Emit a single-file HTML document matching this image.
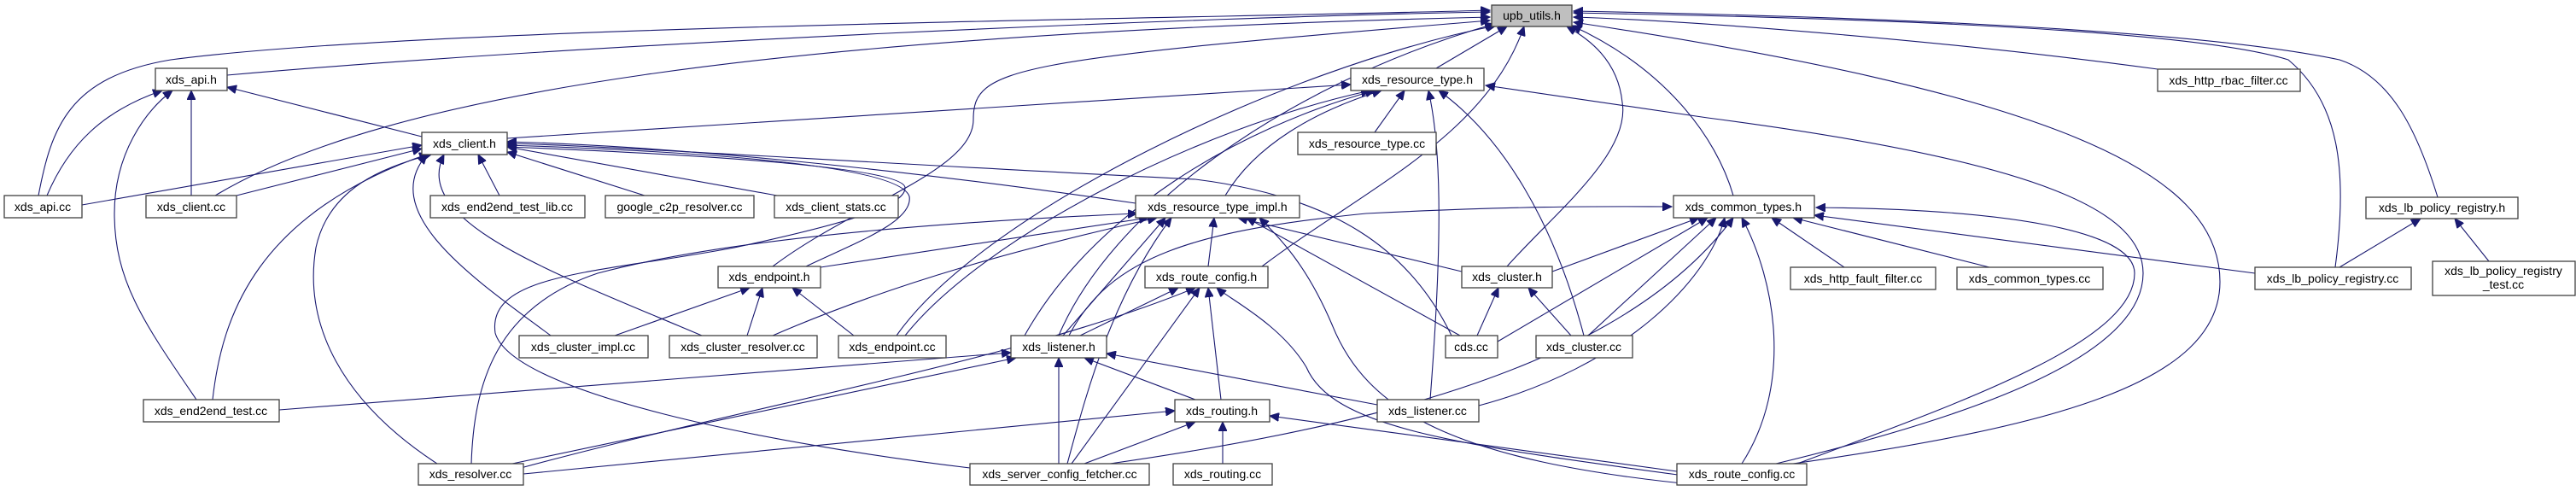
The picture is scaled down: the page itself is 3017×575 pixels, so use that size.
<!DOCTYPE html>
<html><head><meta charset="utf-8"><style>
html,body{margin:0;padding:0;background:#fff;}
svg{display:block;}
text{font-family:"Liberation Sans",sans-serif;font-size:14px;fill:#000;}
.e{fill:none;stroke:#191970;stroke-width:1.1;marker-end:url(#a);}
.n{fill:#fff;stroke:#404040;stroke-width:1.3;}
</style></head><body>
<svg width="3017" height="575" viewBox="0 0 3017 575" xmlns="http://www.w3.org/2000/svg">
<defs><marker id="a" markerUnits="userSpaceOnUse" markerWidth="12" markerHeight="10" refX="11" refY="5" orient="auto"><path d="M0,0 L11,5 L0,10 z" fill="#191970" stroke="#191970"/></marker></defs>
<g>
<path class="e" d="M266,88 C700,50 1400,20 1745,14"/>
<path class="e" d="M45,229 C60,150 80,90 200,70 C500,30 1400,22 1745,12"/>
<path class="e" d="M252,229 C450,110 900,40 1745,20"/>
<path class="e" d="M905,312 C1000,240 1140,200 1140,140 C1140,80 1180,70 1745,24"/>
<path class="e" d="M1240,393 C1300,250 1500,100 1750,28"/>
<path class="e" d="M1050,393 C1150,250 1500,80 1752,30"/>
<path class="e" d="M1682,80 L1765,31"/>
<path class="e" d="M1478,312 C1600,220 1740,160 1785,31"/>
<path class="e" d="M1765,312 C1820,250 1910,180 1900,120 C1895,70 1860,45 1835,31"/>
<path class="e" d="M2030,229 C2010,160 1950,80 1841,30"/>
<path class="e" d="M2527,81 C2300,50 2000,25 1843,20"/>
<path class="e" d="M2735,313 C2750,200 2740,120 2680,70 C2550,30 2100,20 1843,15"/>
<path class="e" d="M2855,231 C2830,150 2800,90 2740,70 C2550,30 2100,18 1843,13"/>
<path class="e" d="M2100,543 C2400,500 2600,450 2600,330 C2600,200 2400,110 1843,26"/>
<path class="e" d="M55,229 C80,170 120,130 190,106"/>
<path class="e" d="M224,229 L224,106"/>
<path class="e" d="M230,468 C170,380 134,330 134,250 C134,180 170,130 202,106"/>
<path class="e" d="M494,160 L266,102"/>
<path class="e" d="M96,240 L494,170"/>
<path class="e" d="M277,229 L494,174"/>
<path class="e" d="M585,229 L560,181"/>
<path class="e" d="M755,229 L594,178"/>
<path class="e" d="M910,229 L594,172"/>
<path class="e" d="M1330,238 C1000,190 750,170 594,166"/>
<path class="e" d="M645,393 C560,330 440,250 500,181"/>
<path class="e" d="M822,393 C650,320 480,260 520,181"/>
<path class="e" d="M249,468 C260,370 300,250 502,180"/>
<path class="e" d="M512,543 C400,470 355,380 370,290 C385,220 450,195 505,181"/>
<path class="e" d="M1700,393 C1650,290 1560,230 1400,210 C1000,190 700,170 594,168"/>
<path class="e" d="M944,312 C1000,285 1070,260 1065,230 C1055,200 900,180 594,170"/>
<path class="e" d="M1136,548 C900,520 600,460 580,390 C570,320 700,320 860,290 C1000,260 1060,240 1060,220 C1060,195 800,180 594,172"/>
<path class="e" d="M594,162 L1582,99"/>
<path class="e" d="M1610,155 L1645,106"/>
<path class="e" d="M1435,229 C1470,170 1540,130 1618,106"/>
<path class="e" d="M1200,393 C1280,250 1450,150 1610,106"/>
<path class="e" d="M1060,393 C1150,280 1400,150 1605,106"/>
<path class="e" d="M1675,468 C1688,300 1690,180 1673,106"/>
<path class="e" d="M1855,393 C1820,260 1760,160 1685,106"/>
<path class="e" d="M2080,543 C2300,490 2510,420 2510,320 C2510,250 2400,190 2000,138 L1740,100"/>
<path class="e" d="M552,543 C555,450 580,360 700,320 C850,280 1100,260 1332,250"/>
<path class="e" d="M961,313 L1345,255"/>
<path class="e" d="M905,393 C1050,330 1200,290 1355,255"/>
<path class="e" d="M1245,393 L1365,255"/>
<path class="e" d="M1415,312 L1422,255"/>
<path class="e" d="M1712,318 L1450,255"/>
<path class="e" d="M1250,543 C1270,470 1300,350 1372,255"/>
<path class="e" d="M1710,393 L1460,255"/>
<path class="e" d="M1990,568 C1700,540 1600,480 1560,380 C1530,310 1500,280 1475,255"/>
<path class="e" d="M1252,393 C1300,300 1400,270 1600,250 C1800,240 1900,242 1958,242"/>
<path class="e" d="M1818,318 L1990,255"/>
<path class="e" d="M1754,400 L2000,255"/>
<path class="e" d="M1860,393 L2010,255"/>
<path class="e" d="M1732,475 C1900,430 2000,330 2020,255"/>
<path class="e" d="M1300,543 C1600,500 1900,430 2030,255"/>
<path class="e" d="M2160,313 L2075,255"/>
<path class="e" d="M2330,313 L2100,255"/>
<path class="e" d="M2641,320 L2125,252"/>
<path class="e" d="M2105,543 C2300,470 2500,400 2500,320 C2500,270 2350,245 2127,243"/>
<path class="e" d="M2040,543 C2100,450 2080,330 2040,255"/>
<path class="e" d="M720,393 L878,337"/>
<path class="e" d="M875,393 L893,337"/>
<path class="e" d="M1000,393 L928,337"/>
<path class="e" d="M1265,393 L1380,337"/>
<path class="e" d="M1430,468 L1415,337"/>
<path class="e" d="M610,548 C900,470 1200,420 1400,337"/>
<path class="e" d="M1255,543 L1405,337"/>
<path class="e" d="M1965,556 C1700,520 1560,500 1530,430 C1500,380 1440,350 1425,337"/>
<path class="e" d="M1730,393 L1755,337"/>
<path class="e" d="M1840,393 L1790,337"/>
<path class="e" d="M327,480 L1184,413"/>
<path class="e" d="M600,543 L1190,419"/>
<path class="e" d="M1240,543 L1240,419"/>
<path class="e" d="M1400,468 L1270,419"/>
<path class="e" d="M1613,474 L1296,414"/>
<path class="e" d="M613,555 L1376,481"/>
<path class="e" d="M1270,543 L1400,494"/>
<path class="e" d="M1432,543 L1432,494"/>
<path class="e" d="M1964,552 L1487,487"/>
<path class="e" d="M2740,313 L2835,256"/>
<path class="e" d="M2915,306 L2875,256"/>
</g>
<g>
<rect x="1747" y="6" width="94" height="25" fill="#bfbfbf" stroke="#404040" stroke-width="1.3"/><text x="1794" y="23" text-anchor="middle">upb_utils.h</text>
<rect class="n" x="182" y="80" width="84" height="26"/><text x="224" y="98" text-anchor="middle">xds_api.h</text>
<rect class="n" x="1582" y="80" width="156" height="26"/><text x="1660" y="98" text-anchor="middle">xds_resource_type.h</text>
<rect class="n" x="2527" y="81" width="167" height="26"/><text x="2610" y="99" text-anchor="middle">xds_http_rbac_filter.cc</text>
<rect class="n" x="494" y="155" width="100" height="26"/><text x="544" y="173" text-anchor="middle">xds_client.h</text>
<rect class="n" x="1520" y="155" width="162" height="26"/><text x="1601" y="173" text-anchor="middle">xds_resource_type.cc</text>
<rect class="n" x="5" y="229" width="91" height="26"/><text x="50" y="247" text-anchor="middle">xds_api.cc</text>
<rect class="n" x="171" y="229" width="106" height="26"/><text x="224" y="247" text-anchor="middle">xds_client.cc</text>
<rect class="n" x="504" y="229" width="181" height="26"/><text x="594" y="247" text-anchor="middle">xds_end2end_test_lib.cc</text>
<rect class="n" x="709" y="229" width="174" height="26"/><text x="796" y="247" text-anchor="middle">google_c2p_resolver.cc</text>
<rect class="n" x="907" y="229" width="145" height="26"/><text x="979" y="247" text-anchor="middle">xds_client_stats.cc</text>
<rect class="n" x="1330" y="229" width="192" height="26"/><text x="1426" y="247" text-anchor="middle">xds_resource_type_impl.h</text>
<rect class="n" x="1960" y="229" width="165" height="26"/><text x="2042" y="247" text-anchor="middle">xds_common_types.h</text>
<rect class="n" x="2771" y="231" width="178" height="25"/><text x="2860" y="248" text-anchor="middle">xds_lb_policy_registry.h</text>
<rect class="n" x="841" y="312" width="120" height="25"/><text x="901" y="329" text-anchor="middle">xds_endpoint.h</text>
<rect class="n" x="1341" y="312" width="144" height="25"/><text x="1413" y="329" text-anchor="middle">xds_route_config.h</text>
<rect class="n" x="1712" y="312" width="106" height="25"/><text x="1765" y="329" text-anchor="middle">xds_cluster.h</text>
<rect class="n" x="2097" y="313" width="170" height="26"/><text x="2182" y="331" text-anchor="middle">xds_http_fault_filter.cc</text>
<rect class="n" x="2292" y="313" width="171" height="26"/><text x="2377" y="331" text-anchor="middle">xds_common_types.cc</text>
<rect class="n" x="2641" y="313" width="183" height="26"/><text x="2732" y="331" text-anchor="middle">xds_lb_policy_registry.cc</text>
<rect class="n" x="2849" y="306" width="167" height="40"/><text x="2932" y="322" text-anchor="middle">xds_lb_policy_registry</text><text x="2932" y="338" text-anchor="middle">_test.cc</text>
<rect class="n" x="608" y="393" width="151" height="26"/><text x="683" y="411" text-anchor="middle">xds_cluster_impl.cc</text>
<rect class="n" x="784" y="393" width="173" height="26"/><text x="870" y="411" text-anchor="middle">xds_cluster_resolver.cc</text>
<rect class="n" x="982" y="393" width="126" height="26"/><text x="1045" y="411" text-anchor="middle">xds_endpoint.cc</text>
<rect class="n" x="1184" y="393" width="112" height="26"/><text x="1240" y="411" text-anchor="middle">xds_listener.h</text>
<rect class="n" x="1693" y="393" width="61" height="26"/><text x="1723" y="411" text-anchor="middle">cds.cc</text>
<rect class="n" x="1799" y="393" width="113" height="26"/><text x="1855" y="411" text-anchor="middle">xds_cluster.cc</text>
<rect class="n" x="168" y="468" width="159" height="26"/><text x="247" y="486" text-anchor="middle">xds_end2end_test.cc</text>
<rect class="n" x="1376" y="468" width="111" height="26"/><text x="1431" y="486" text-anchor="middle">xds_routing.h</text>
<rect class="n" x="1613" y="468" width="119" height="26"/><text x="1672" y="486" text-anchor="middle">xds_listener.cc</text>
<rect class="n" x="490" y="543" width="123" height="25"/><text x="551" y="560" text-anchor="middle">xds_resolver.cc</text>
<rect class="n" x="1136" y="543" width="210" height="25"/><text x="1241" y="560" text-anchor="middle">xds_server_config_fetcher.cc</text>
<rect class="n" x="1374" y="543" width="116" height="25"/><text x="1432" y="560" text-anchor="middle">xds_routing.cc</text>
<rect class="n" x="1964" y="543" width="152" height="25"/><text x="2040" y="560" text-anchor="middle">xds_route_config.cc</text>
</g>
</svg>
</body></html>
